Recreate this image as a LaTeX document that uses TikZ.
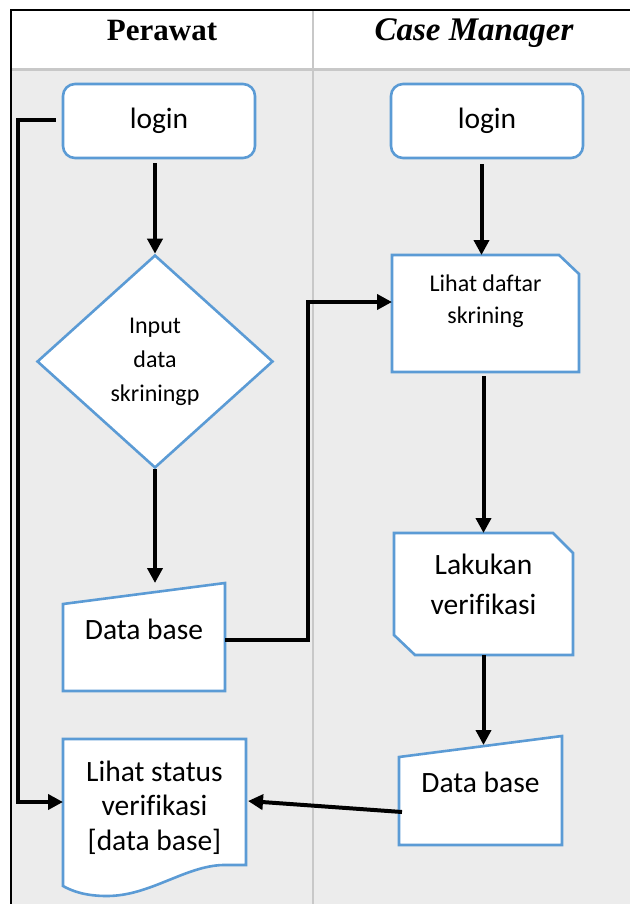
\documentclass[tikz,border=0pt]{standalone}
\usepackage{fontspec}
\setmainfont{Carlito}[Ligatures=NoCommon]
\newfontfamily\headfont{Liberation Serif}
\usepackage{xcolor}
\usetikzlibrary{
    shapes.geometric,
    arrows.meta,
    calc
}
\definecolor{boxline}{RGB}{91,155,213}
\definecolor{lanefill}{RGB}{236,236,236}
\definecolor{laneline}{RGB}{200,200,200}
\pgfdeclarelayer{paper}
\pgfdeclarelayer{outline}
\pgfsetlayers{paper,outline,main}
\tikzset{
    startbox/.style={
        rectangle,
        draw=boxline,
        fill=white,
        rounded corners=6pt,
        minimum width=96pt,
        minimum height=37pt,
        font=\fontsize{14.75}{17}\selectfont,
        line width=1.3pt
    },
    decision/.style={
        diamond,
        draw=boxline,
        fill=white,
        inner sep=0pt,
        minimum width=118pt,
        minimum height=106.5pt,
        align=center,
        font=\fontsize{12}{17}\selectfont,
        line width=1.3pt
    },
    shapeline/.style={
        draw=boxline,
        fill=white,
        line width=1.3pt,
        line join=miter
    },
    flow/.style={
        -{Triangle[length=7.5pt,width=7.5pt]},
        draw=black,
        line width=2pt
    }
}

\begin{document}
\begin{tikzpicture}[
    x=0.5pt, y=-0.5pt,
    flowbox/.style={
        rectangle,
        draw=none,
        inner sep=0pt,
        outer sep=0pt
    },
    boxtext/.style={
        align=center,
        inner sep=0pt,
        font=\fontsize{14.75}{17.25}\selectfont
    },
    lanehead/.style={
        anchor=base,
        font=\headfont\fontsize{15.5}{18}\selectfont\bfseries
    }
]
    \useasboundingbox (0,0) rectangle (630,904);

    % Lanes
    \begin{pgfonlayer}{paper}
        \fill[lanefill] (11,70) rectangle (630,904);
        \draw[laneline, line width=1.5pt] (11,70) -- (630,70);
        \draw[laneline, line width=1pt] (313,10) -- (313,904);
        \draw[line width=1.3pt] (630,10) -- (11,10) -- (11,904);
    \end{pgfonlayer}
    \node[lanehead] (perawat) at (162,41) {Perawat};
    \node[lanehead] (casemgr) at (474,41) {\fontsize{16.5}{18}\selectfont\itshape Case Manager};

    % Perawat
    \node[startbox] (loginL) at (159,121) {login};
    \node[decision] (inp) at (155,361.5) {Input\\data\\skriningp};
    \node[flowbox, minimum width=81pt, minimum height=54pt] (dbL) at (144,637) {};
    \node[boxtext] (dbL-txt) at ($(dbL)+(0,-8)$) {Data base};
    \node[flowbox, minimum width=91.5pt, minimum height=73.5pt] (st) at (154.5,812.5) {};
    \node[boxtext] (st-txt) at ($(st)+(0,-5)$) {Lihat status\\verifikasi\\{[data base]}};

    % Case Manager
    \node[startbox] (loginR) at (487,121) {login};
    \node[flowbox, minimum width=93.5pt, minimum height=58.5pt] (ld) at (485.5,313.5) {};
    \node[boxtext, font=\fontsize{12}{16}\selectfont] (ld-txt) at ($(ld)+(0,-12.5)$) {Lihat daftar\\skrining};
    \node[flowbox, minimum width=89.5pt, minimum height=61pt] (lak) at (483.5,594) {};
    \node[boxtext, font=\fontsize{14.75}{20}\selectfont] (lak-txt) at ($(lak)+(0,-9.5)$) {Lakukan\\verifikasi};
    \node[flowbox, minimum width=81.5pt, minimum height=54.5pt] (dbR) at (480.5,790.5) {};
    \node[boxtext] (dbR-txt) at ($(dbR)+(0,-8)$) {Data base};

    % Outlines
    \begin{pgfonlayer}{outline}
        \draw[shapeline] ($(dbL.north west)+(0,21)$) -- (dbL.north east) -- (dbL.south east) -- (dbL.south west) -- cycle;
        \draw[shapeline] ($(dbR.north west)+(0,21)$) -- (dbR.north east) -- (dbR.south east) -- (dbR.south west) -- cycle;
        \draw[shapeline] (ld.north west) -- ($(ld.north east)+(-20,0)$) -- ($(ld.north east)+(0,19)$) -- (ld.south east) -- (ld.south west) -- cycle;
        \draw[shapeline] (lak.north west) -- ($(lak.north east)+(-20,0)$) -- ($(lak.north east)+(0,20)$) -- (lak.south east) -- ($(lak.south west)+(21,0)$) -- ($(lak.south west)+(0,-20)$) -- cycle;
        \draw[shapeline] (st.north west) -- (st.north east) -- ($(st.south east)+(0,-21)$) -- ($(st.south east)+(-23,-21)$)
            .. controls ($(st.south east)+(-61,-20)$) and ($(st.south west)+(87,10)$) .. ($(st.south west)+(44,10)$)
            .. controls ($(st.south west)+(22,10)$) and ($(st.south west)+(9,5)$) .. (st.south west) -- cycle;
    \end{pgfonlayer}

    % Connectors
    \draw[flow] ($(inp.north |- loginL.south)+(0,4)$) -- (inp.north);
    \draw[flow] (inp.south) -- (inp.south |- dbL.north);
    \draw[flow] ($(dbL.east)+(0,3)$) -- ++(83,0) |- ($(ld.west)+(0,-11.5)$);
    \draw[flow] ($(ld.north |- loginR.south)+(-4,5)$) -- ($(ld.north)+(-4,0)$);
    \draw[flow] ($(lak.north |- ld.south)+(0,4)$) -- (lak.north);
    \draw[flow] (lak.south) -- ($(lak.south |- dbR.north)+(0,9)$);
    \draw[flow] ($(dbR.west)+(3,21.5)$) -- ($(st.east)+(2,-11.5)$);
    \draw[flow] ($(loginL.west)+(-6,-1)$) -- ++(-38,0) |- ($(st.west)+(0,-10.5)$);
\end{tikzpicture}
\end{document}
